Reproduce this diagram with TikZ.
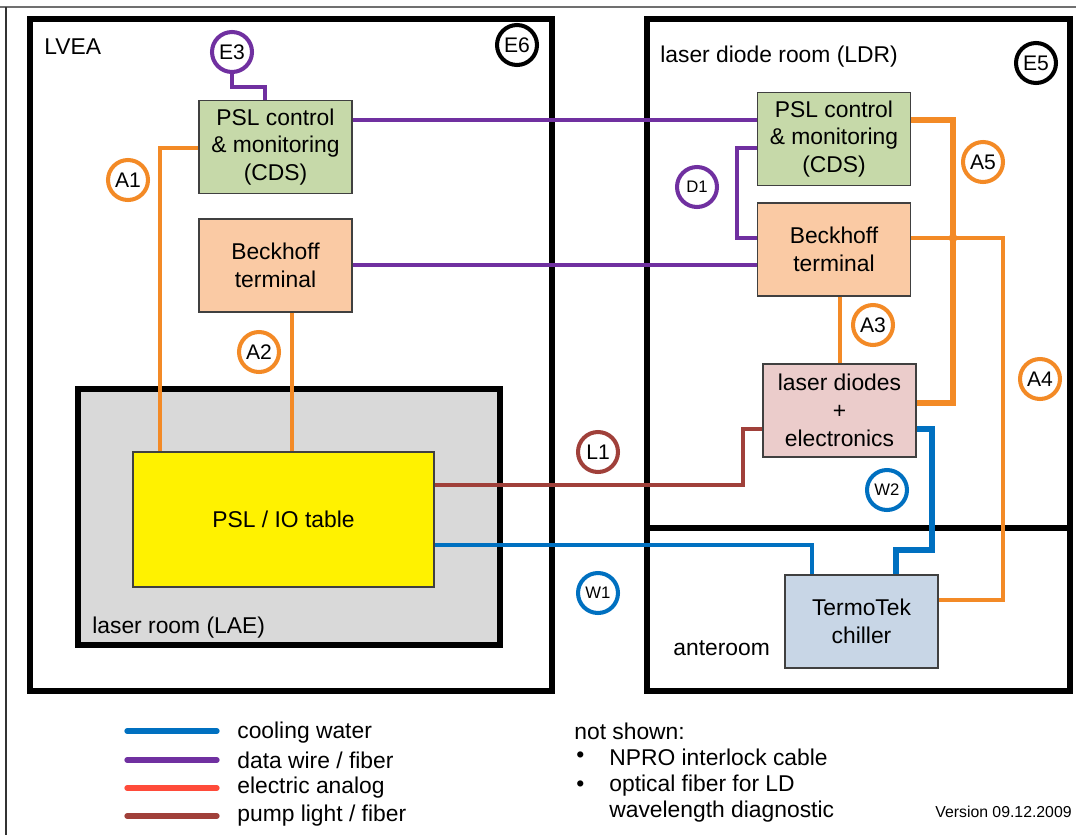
\documentclass[tikz,border=0pt]{standalone}
\usepackage{fontspec}
\setmainfont{Liberation Sans}
\usetikzlibrary{calc}
\definecolor{corange}{HTML}{F38A26}
\definecolor{cpurple}{HTML}{7030A0}
\definecolor{cblue}{HTML}{0070C0}
\definecolor{cbrown}{HTML}{A0403A}
\definecolor{cred}{HTML}{FF4B3A}
\definecolor{cgreen}{HTML}{C6D9A9}
\definecolor{cpeach}{HTML}{FACAA4}
\definecolor{cpink}{HTML}{EBCCCB}
\definecolor{cgray}{HTML}{D9D9D9}
\definecolor{cchill}{HTML}{C8D6E6}
\definecolor{cframe}{HTML}{707070}
\begin{document}
\begin{tikzpicture}[x=0.02cm,y=-0.02cm,
  room/.style={draw=black,line width=2.9pt},
  dev/.style={draw=black!75,line width=0.7pt,align=center,inner sep=0pt,
    font=\fontsize{13}{15.8}\selectfont,minimum width=3.06cm,minimum height=1.86cm},
  tag/.style={circle,draw,line width=2.3pt,minimum size=0.8cm,inner sep=0pt,
    font=\fontsize{12}{14}\selectfont},
  stag/.style={tag,font=\fontsize{9.5}{11}\selectfont},
  lbl/.style={anchor=west,inner sep=0pt,font=\fontsize{13}{15}\selectfont},
  wire/.style={line width=2.6pt,draw=cpurple},
  orng/.style={line width=2.2pt,draw=corange},
  orngthick/.style={line width=2.9pt,draw=corange},
  orngthin/.style={line width=2pt,draw=corange},
  water/.style={line width=2.6pt,draw=cblue},
  pump/.style={line width=2.6pt,draw=cbrown},
  legline/.style={line width=3pt,line cap=round}
]
\useasboundingbox (0,0) rectangle (1076,835);
% outer frame
\draw[cframe,line width=1pt] (0,7) -- (1076,7);
\draw[black!80,line width=1pt] (6,7) -- (6,835);

% rooms
\draw[room] (30,19) rectangle (552,691);
\draw[room,fill=cgray] (78,389) rectangle (500,645);
\draw[room] (647,19) rectangle (1070,691);
\draw[room] (647,528) -- (1070,528);

\node[lbl] (lvea) at (44,47) {LVEA};
\node[lbl] (lae) at (92,628) {laser room (LAE)};
\node[lbl] (ldr) at (660,57) {laser diode room (LDR)};
\node[lbl] (ante) at (673,648) {anteroom};

% devices
\node[dev,fill=cgreen] (pslL) at (275.5,147) {PSL control\\\& monitoring\\(CDS)};
\node[dev,fill=cpeach] (beckL) at (275.5,265.5) {Beckhoff\\terminal};
\node[dev,fill=cgreen] (pslR) at (834,139) {PSL control\\\& monitoring\\(CDS)};
\node[dev,fill=cpeach] (beckR) at (834,249.5) {Beckhoff\\terminal};
\node[dev,fill=cpink] (ld) at (839.5,410.5) {laser diodes\\+\\electronics};
\node[dev,fill=cchill] (chill) at (861.5,621.5) {TermoTek\\chiller};
\node[dev,fill=yellow,minimum width=6.02cm,minimum height=2.7cm] (io) at (283.5,519.5) {PSL / IO table};

% tags
\node[tag,draw=black] (e6) at (517,45) {E6};
\node[tag,draw=cpurple] (e3) at (232,52) {E3};
\node[tag,draw=corange] (a1) at (128,180) {A1};
\node[tag,draw=corange] (a2) at (259,352) {A2};
\node[tag,draw=black] (e5) at (1036,63) {E5};
\node[stag,draw=cpurple] (d1) at (697,187) {D1};
\node[tag,draw=corange] (a5) at (983,162) {A5};
\node[tag,draw=corange] (a3) at (873,325) {A3};
\node[tag,draw=corange] (a4) at (1040,379) {A4};
\node[tag,draw=cbrown] (l1) at (598,452) {L1};
\node[stag,draw=cblue] (w2) at (887,490) {W2};
\node[stag,draw=cblue] (w1) at (598,593) {W1};

% connectors
\draw[wire] (e3.south) |- (265,87) -- (265,0 |- pslL.north);
\draw[wire] (pslL.east |- 0,120) -- (pslR.west |- 0,120);
\draw[wire] (beckL.east |- 0,265) -- (beckR.west |- 0,265);
\draw[wire] (pslR.west |- 0,148) -| (737,238) -- (beckR.west |- 0,238);
\draw[orng] (pslL.west |- 0,148) -| (160,0 |- io.north);
\draw[orng] (292,0 |- beckL.south) -- (292,0 |- io.north);
\draw[orng] (840,0 |- beckR.south) -- (840,0 |- ld.north);
\draw[orngthick] (pslR.east |- 0,120) -| (953,403) -- (ld.east |- 0,403);
\draw[orngthin] (beckR.east |- 0,238) -| (1003,600) -- (chill.east |- 0,600);
\fill[corange] (953,238) circle[radius=2.5pt];
\draw[pump] (io.east |- 0,485) -| (743,429) -- (ld.west |- 0,429);
\draw[water,line width=3pt] (ld.east |- 0,429) -| (932,550) -| (896,0 |- chill.north);
\draw[water] (io.east |- 0,545) -| (812,0 |- chill.north);

% legend
\draw[legline,cblue] (127,731) -- (217,731);
\draw[legline,cpurple] (127,760) -- (217,760);
\draw[legline,cred] (127,788) -- (217,788);
\draw[legline,cbrown] (127,816) -- (217,816);
\node[lbl] (lg1) at (237,733) {cooling water};
\node[lbl] (lg2) at (237,760) {data wire / fiber};
\node[lbl] (lg3) at (237,788) {electric analog};
\node[lbl] (lg4) at (237,816) {pump light / fiber};

\node[lbl] (ns) at (574,731) {not shown:};
\node[lbl] (b1) at (576,757) {•};
\node[lbl] (b2) at (576,786) {•};
\node[lbl] (ns1) at (609,757) {NPRO interlock cable};
\node[lbl] (ns2) at (609,786) {optical fiber for LD};
\node[lbl] (ns3) at (609,812) {wavelength diagnostic};
\node[anchor=east,inner sep=0pt,font=\fontsize{9}{11}\selectfont] (ver) at (1072,812) {Version 09.12.2009};
\end{tikzpicture}
\end{document}
